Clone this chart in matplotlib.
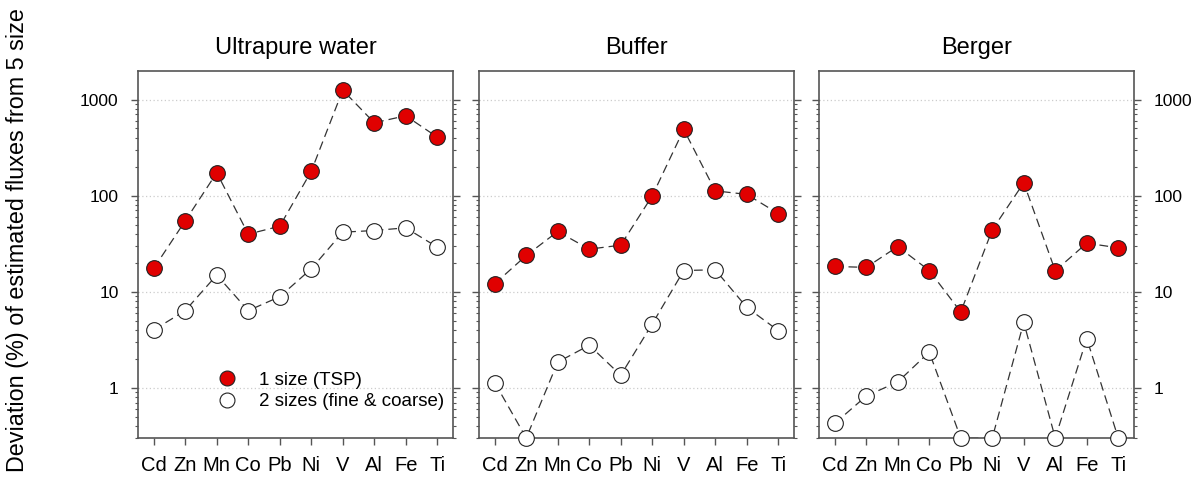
import numpy as np
import matplotlib
matplotlib.use('Agg')
import matplotlib.pyplot as plt
from matplotlib.ticker import LogLocator, NullFormatter, FixedLocator

plt.rcParams['font.family'] = ['Liberation Sans', 'DejaVu Sans']

elements = ['Cd', 'Zn', 'Mn', 'Co', 'Pb', 'Ni', 'V', 'Al', 'Fe', 'Ti']
titles = ['Ultrapure water', 'Buffer', 'Berger']

# deviation (%) for 1 size (TSP)
one_size_water = [17.5, 54.6, 173, 39.7, 48, 179, 1250, 573, 677, 406]
one_size_buffer = [12.1, 23.8, 42.3, 27.7, 30.5, 99.3, 488, 112, 103, 65]
one_size_berger = [18.3, 17.9, 29.5, 16.6, 6.15, 44, 136, 16.5, 32, 28.6]

# deviation (%) for 2 sizes (fine & coarse)
two_size_water = [4.0, 6.35, 14.9, 6.35, 8.87, 17.3, 41.6, 43.3, 46.2, 29.1]
two_size_buffer = [1.13, 0.3, 1.85, 2.77, 1.35, 4.62, 16.6, 16.9, 6.87, 3.94]
two_size_berger = [0.426, 0.82, 1.15, 2.35, 0.3, 0.3, 4.8, 0.3, 3.25, 0.3]

one_size = [one_size_water, one_size_buffer, one_size_berger]
two_size = [two_size_water, two_size_buffer, two_size_berger]

fig = plt.figure(figsize=(11.99, 4.79), dpi=100)
W, H = 1199, 479
lefts = [138, 479, 819]
width = 315
top, bottom = 71, 438
spine_col = '#555555'

x = np.arange(len(elements))
for i in range(3):
    ax = fig.add_axes([lefts[i] / W, 1 - bottom / H, width / W, (bottom - top) / H])
    ax.set_yscale('log')
    ax.set_ylim(0.3, 1980)
    ax.set_xlim(-0.5, 9.5)
    for yv in [1, 10, 100, 1000]:
        ax.axhline(yv, color='#cccccc', lw=0.9, ls=(0, (1, 2)), zorder=0)
    ax.plot(x, one_size[i], color='#333333', lw=0.9, ls=(0, (7, 4)), zorder=1)
    ax.plot(x, two_size[i], color='#333333', lw=0.9, ls=(0, (7, 4)), zorder=1)
    ax.plot(x, one_size[i], 'o', ms=11.3, mfc='#e00000', mec='#222222', mew=0.8,
            ls='none', zorder=3, clip_on=False, label='1 size (TSP)')
    ax.plot(x, two_size[i], 'o', ms=11.3, mfc='white', mec='#222222', mew=0.8,
            ls='none', zorder=3, clip_on=False, label='2 sizes (fine & coarse)')

    ax.set_xticks(x)
    ax.set_xticklabels(elements, fontsize=14.5)
    ax.yaxis.set_major_locator(FixedLocator([1, 10, 100, 1000]))
    ax.yaxis.set_minor_locator(LogLocator(base=10, subs=np.arange(2, 10)))
    ax.yaxis.set_minor_formatter(NullFormatter())
    ax.set_yticklabels(['1', '10', '100', '1000'])
    ax.tick_params(axis='y', which='major', direction='out', length=5, width=1,
                   color=spine_col, labelsize=12.5, left=True, right=True,
                   labelleft=(i == 0), labelright=(i == 2), pad=9)
    ax.tick_params(axis='y', which='minor', direction='out', length=2.5, width=0.8,
                   color=spine_col, left=True, right=True)
    ax.tick_params(axis='x', direction='out', length=5, width=1, color=spine_col, pad=8)
    for s in ax.spines.values():
        s.set_color(spine_col)
        s.set_linewidth(1.2)
    ax.set_title(titles[i], fontsize=17, pad=12)

    if i == 0:
        ax.legend(loc='lower left', bbox_to_anchor=(0.2, 0.055), frameon=False,
                  fontsize=13.5, markerscale=0.95, handletextpad=0.7,
                  labelspacing=0.23, borderaxespad=0)

fig.text(18 / W, 1 - 8 / H, 'Deviation (%) of estimated fluxes from 5 size',
         rotation=90, ha='center', va='top', fontsize=16.8)

fig.savefig('out.png', dpi=100)
